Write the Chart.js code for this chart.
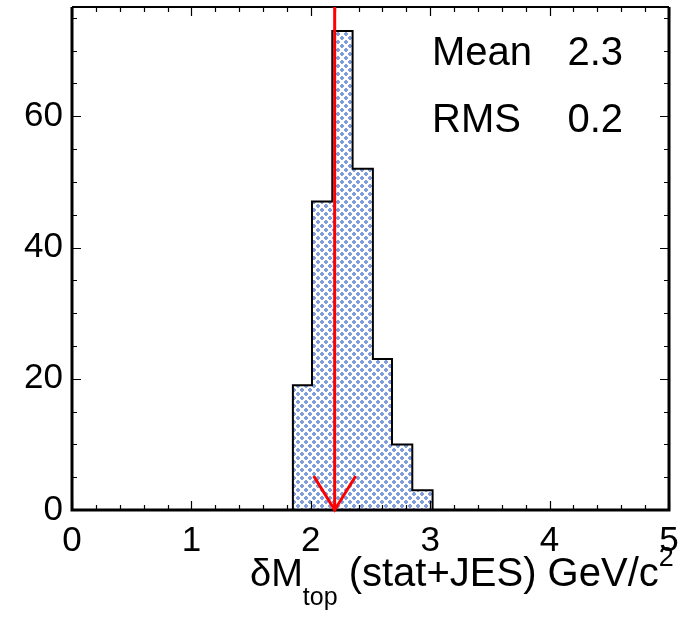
<!DOCTYPE html>
<html>
<head>
<meta charset="utf-8">
<script src="https://cdn.jsdelivr.net/npm/chart.js@4"></script>
<style>
  body { margin: 0; background: #fff; }
  canvas { display: block; }
</style>
</head>
<body>
<canvas id="chart" width="685" height="625"></canvas>
<script>
// histogram data
const binEdges = [1.85, 2.01, 2.18, 2.35, 2.52, 2.68, 2.85, 3.02];
const binCounts = [19, 47, 73, 52, 23, 10, 3];
const xTicks = [0, 1, 2, 3, 4, 5];
const yTicks = [0, 20, 40, 60];
const xRange = [0, 5];
const yMax = 76.65;
const arrowValue = 2.2;
const statLabels = ['Mean', 'RMS'];
const statValues = ['2.3', '0.2'];

const FONT = '"Liberation Sans", Arial, Helvetica, sans-serif';

// small blue hatch pattern like the ROOT fill style
function makePattern() {
    const c = document.createElement('canvas');
    c.width = 8;
    c.height = 8;
    const g = c.getContext('2d');
    g.fillStyle = '#ffffff';
    g.fillRect(0, 0, 8, 8);
    g.fillStyle = '#7f9edb';
    [[0, 0], [4, 4]].forEach(function (p) {
        g.fillRect(p[0] + 1, p[1], 2, 4);
        g.fillRect(p[0], p[1] + 1, 4, 2);
    });
    return g.createPattern(c, 'repeat');
}

// outline points: left edge up, then each bin top, then down at the last edge
function histPoints() {
    const pts = [{ x: binEdges[0], y: 0 }];
    binCounts.forEach(function (c, i) {
        pts.push({ x: binEdges[i], y: c });
    });
    pts.push({ x: binEdges[binEdges.length - 1], y: 0 });
    return pts;
}

const rootStyle = {
    id: 'rootStyle',
    afterDatasetsDraw: function (chart) {
        const ctx = chart.ctx;
        const a = chart.chartArea;
        const xs = chart.scales.x;
        const ys = chart.scales.y;

        ctx.save();
        ctx.strokeStyle = '#000';
        ctx.lineWidth = 1.2;
        // x ticks on bottom and top, minor every 0.2
        for (let i = 0; i <= 25; i++) {
            const v = i * 0.2;
            const px = Math.round(xs.getPixelForValue(v)) + 0.5;
            const len = (i % 5 === 0) ? 9 : 5;
            ctx.beginPath();
            ctx.moveTo(px, a.bottom);
            ctx.lineTo(px, a.bottom - len);
            ctx.moveTo(px, a.top);
            ctx.lineTo(px, a.top + len);
            ctx.stroke();
        }
        // y ticks on left and right, minor every 5
        for (let v = 0; v <= yMax; v += 5) {
            const py = Math.round(ys.getPixelForValue(v)) + 0.5;
            const len = (v % 20 === 0) ? 9 : 5;
            ctx.beginPath();
            ctx.moveTo(a.left, py);
            ctx.lineTo(a.left + len, py);
            ctx.moveTo(a.right, py);
            ctx.lineTo(a.right - len, py);
            ctx.stroke();
        }

        // frame
        ctx.lineWidth = 3;
        ctx.beginPath();
        ctx.moveTo(a.left, a.top);
        ctx.lineTo(a.left, a.bottom);
        ctx.lineTo(a.right, a.bottom);
        ctx.lineTo(a.right, a.top);
        ctx.stroke();
        ctx.lineWidth = 2;
        ctx.beginPath();
        ctx.moveTo(a.left, a.top);
        ctx.lineTo(a.right, a.top);
        ctx.stroke();

        // red arrow
        const ax = xs.getPixelForValue(arrowValue);
        ctx.strokeStyle = '#ff0000';
        ctx.lineWidth = 3;
        ctx.beginPath();
        ctx.moveTo(ax, a.top);
        ctx.lineTo(ax, a.bottom);
        ctx.moveTo(ax - 21, a.bottom - 34);
        ctx.lineTo(ax, a.bottom);
        ctx.lineTo(ax + 21, a.bottom - 34);
        ctx.stroke();

        // stats box text
        ctx.fillStyle = '#000';
        ctx.font = '40px ' + FONT;
        ctx.textBaseline = 'alphabetic';
        statLabels.forEach(function (s, i) {
            const by = 65 + i * 67;
            ctx.textAlign = 'left';
            ctx.fillText(s, 432, by);
            ctx.textAlign = 'right';
            ctx.fillText(statValues[i], 623, by);
        });

        // axis title with sub/superscript
        const parts = [
            { t: '\u03b4M', size: 38, dy: 0 },
            { t: 'top', size: 25, dy: 19 },
            { t: ' (stat+JES) GeV/c', size: 40, dy: 0 },
            { t: '2', size: 27, dy: -20 }
        ];
        let tx = 250;
        const base = 586;
        ctx.textAlign = 'left';
        parts.forEach(function (p) {
            ctx.font = p.size + 'px ' + FONT;
            ctx.fillText(p.t, tx, base + p.dy);
            tx += ctx.measureText(p.t).width;
        });
        ctx.restore();
    }
};

new Chart(document.getElementById('chart'), {
    type: 'line',
    data: {
        datasets: [{
            data: histPoints(),
            stepped: 'before',
            borderColor: '#000',
            borderWidth: 2,
            backgroundColor: makePattern(),
            fill: 'origin',
            pointRadius: 0
        }]
    },
    options: {
        responsive: false,
        devicePixelRatio: 1,
        animation: false,
        layout: { padding: { top: 7, right: 16, left: 0, bottom: 0 } },
        plugins: {
            legend: { display: false },
            tooltip: { enabled: false }
        },
        scales: {
            x: {
                type: 'linear',
                min: xRange[0],
                max: xRange[1],
                grid: { display: false, drawTicks: false },
                border: { display: false },
                afterBuildTicks: function (scale) {
                    scale.ticks = xTicks.map(function (v) { return { value: v }; });
                },
                afterFit: function (scale) {
                    scale.height = 115;
                    scale.paddingLeft = 0;
                    scale.paddingRight = 0;
                },
                ticks: {
                    color: '#000',
                    font: { family: FONT, size: 35 },
                    padding: 10,
                    maxRotation: 0,
                    autoSkip: false
                }
            },
            y: {
                min: 0,
                max: yMax,
                grid: { display: false, drawTicks: false },
                border: { display: false },
                afterBuildTicks: function (scale) {
                    scale.ticks = yTicks.map(function (v) { return { value: v }; });
                },
                afterFit: function (scale) {
                    scale.width = 72;
                    scale.paddingTop = 0;
                    scale.paddingBottom = 0;
                },
                ticks: {
                    color: '#000',
                    font: { family: FONT, size: 35 },
                    padding: 9
                }
            }
        }
    },
    plugins: [rootStyle]
});
</script>
</body>
</html>
